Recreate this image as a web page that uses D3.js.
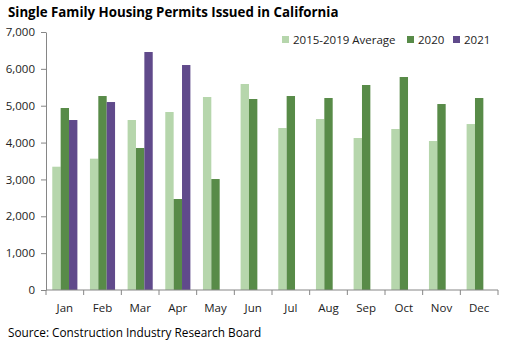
<!DOCTYPE html>
<html>
<head>
<meta charset="utf-8">
<script src="https://cdn.jsdelivr.net/npm/d3@7"></script>
<style>
  body { margin: 0; background: #fff; }
  text { font-family: "Open Sans", sans-serif; fill: #000; }
  .axis path, .axis line { stroke: #868686; }
  .axis text { font-size: 11.5px; fill: #222; }
</style>
</head>
<body>
<script>
var months = ["Jan", "Feb", "Mar", "Apr", "May", "Jun", "Jul", "Aug", "Sep", "Oct", "Nov", "Dec"];
var seriesNames = ["2015-2019 Average", "2020", "2021"];
var avg = [3345, 3563, 4612, 4829, 5236, 5589, 4395, 4639, 4124, 4368, 4042, 4503];
var y2020 = [4938, 5263, 3853, 2469, 3011, 5182, 5263, 5209, 5562, 5779, 5046, 5209];
var y2021 = [4612, 5100, 6457, 6104, null, null, null, null, null, null, null, null];
var yTicks = [0, 1000, 2000, 3000, 4000, 5000, 6000, 7000];
var colors = ["#b6d6ac", "#588b48", "#604a8b"];

var width = 506, height = 344;
var margin = {left: 46, right: 8, top: 32, bottom: 54};

var svg = d3.select("body").append("svg")
    .attr("width", width)
    .attr("height", height);

var x = d3.scaleBand()
    .domain(months)
    .range([margin.left, width - margin.right]);

var x1 = d3.scaleBand()
    .domain(seriesNames)
    .range([0, x.bandwidth()])
    .paddingOuter(0.75)
    .paddingInner(0);

var y = d3.scaleLinear()
    .domain([0, 7000])
    .range([height - margin.bottom, margin.top]);

var series = [avg, y2020, y2021];

series.forEach(function(vals, si) {
    svg.append("g").selectAll("rect")
        .data(vals.map(function(v, i) { return {m: months[i], v: v}; }).filter(function(d) { return d.v != null; }))
        .enter().append("rect")
        .attr("x", function(d) { return x(d.m) + x1(seriesNames[si]); })
        .attr("y", function(d) { return y(d.v); })
        .attr("width", x1.bandwidth())
        .attr("height", function(d) { return y(0) - y(d.v); })
        .style("fill", colors[si]);
});

// y axis
var yAxis = svg.append("g")
    .attr("class", "axis")
    .attr("transform", "translate(" + margin.left + ",0)")
    .call(d3.axisLeft(y).tickValues(yTicks).tickSize(5).tickSizeOuter(0).tickPadding(6).tickFormat(d3.format(",")));

// x axis with ticks at band boundaries
var xAxis = svg.append("g")
    .attr("class", "axis")
    .attr("transform", "translate(0," + y(0) + ")");
xAxis.append("line")
    .attr("x1", margin.left).attr("x2", width - margin.right)
    .attr("y1", 0).attr("y2", 0);
xAxis.selectAll("line.tk")
    .data(months.concat(["end"]))
    .enter().append("line")
    .attr("class", "tk")
    .attr("x1", function(d, i) { return i < months.length ? x(d) : x.range()[1]; })
    .attr("x2", function(d, i) { return i < months.length ? x(d) : x.range()[1]; })
    .attr("y1", 0).attr("y2", 5);
xAxis.selectAll("text")
    .data(months)
    .enter().append("text")
    .attr("x", function(d) { return x(d) + x.bandwidth() / 2; })
    .attr("y", 22)
    .attr("text-anchor", "middle")
    .text(function(d) { return d; });

// title
svg.append("text")
    .attr("x", 8).attr("y", 17)
    .style("font-size", "13.3px")
    .style("font-weight", "bold")
    .text("Single Family Housing Permits Issued in California");

// legend
var legendX = [282, 407, 453];
var legend = svg.append("g").selectAll("g")
    .data(seriesNames)
    .enter().append("g")
    .attr("transform", function(d, i) { return "translate(" + legendX[i] + ",36)"; });
legend.append("rect")
    .attr("width", 7).attr("height", 7)
    .style("fill", function(d, i) { return colors[i]; });
legend.append("text")
    .attr("x", 11).attr("y", 7.5)
    .style("font-size", "11.5px")
    .style("fill", "#222")
    .text(function(d) { return d; });

// source
svg.append("text")
    .attr("x", 8).attr("y", 337)
    .style("font-size", "11.8px")
    .text("Source: Construction Industry Research Board");
</script>
</body>
</html>
